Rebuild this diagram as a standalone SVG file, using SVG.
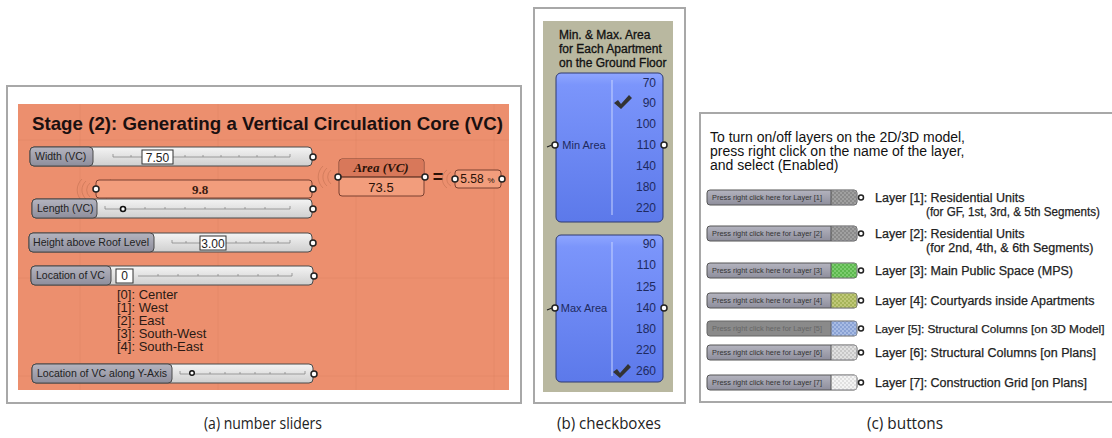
<svg xmlns="http://www.w3.org/2000/svg" width="1112" height="438" viewBox="0 0 1112 438">
<defs>
<linearGradient id="sl" x1="0" y1="0" x2="0" y2="1"><stop offset="0" stop-color="#f4f4f4"/><stop offset="1" stop-color="#cfcfcf"/></linearGradient>
<linearGradient id="lb" x1="0" y1="0" x2="0" y2="1"><stop offset="0" stop-color="#b4b4bf"/><stop offset="1" stop-color="#8e8e9c"/></linearGradient>
<linearGradient id="bl" x1="0" y1="0" x2="0" y2="1"><stop offset="0" stop-color="#8fa6ff"/><stop offset="0.08" stop-color="#7b95fb"/><stop offset="1" stop-color="#5c79ea"/></linearGradient>
<pattern id="pg" width="4" height="4" patternUnits="userSpaceOnUse"><rect width="4" height="4" fill="#8a8a8a"/><rect width="2" height="2" fill="#a0a0a0"/><rect x="2" y="2" width="2" height="2" fill="#a0a0a0"/></pattern>
<pattern id="pgr" width="4" height="4" patternUnits="userSpaceOnUse"><rect width="4" height="4" fill="#5cb84e"/><rect width="2" height="2" fill="#7ccc6e"/><rect x="2" y="2" width="2" height="2" fill="#7ccc6e"/></pattern>
<pattern id="pol" width="4" height="4" patternUnits="userSpaceOnUse"><rect width="4" height="4" fill="#a6b45a"/><rect width="2" height="2" fill="#c0c878"/><rect x="2" y="2" width="2" height="2" fill="#c0c878"/></pattern>
<pattern id="pbl" width="4" height="4" patternUnits="userSpaceOnUse"><rect width="4" height="4" fill="#8aa2d4"/><rect width="2" height="2" fill="#a8bce4"/><rect x="2" y="2" width="2" height="2" fill="#a8bce4"/></pattern>
<pattern id="plg" width="4" height="4" patternUnits="userSpaceOnUse"><rect width="4" height="4" fill="#c8c8c8"/><rect width="2" height="2" fill="#e0e0e0"/><rect x="2" y="2" width="2" height="2" fill="#e0e0e0"/></pattern>
<pattern id="pwh" width="4" height="4" patternUnits="userSpaceOnUse"><rect width="4" height="4" fill="#e0e0e0"/><rect width="2" height="2" fill="#f4f4f4"/><rect x="2" y="2" width="2" height="2" fill="#f4f4f4"/></pattern>
<path id="chk" d="M0,4 L4,1 L7,5 L15,-4 L18,-1 L7,10 Z"/>
</defs>
<style>
.frame{fill:#fff;stroke:#a8a8a8;stroke-width:2}
.body{fill:url(#sl);stroke:#4a4a4a;stroke-width:1}
.lab{fill:url(#lb);stroke:#4a4a4a;stroke-width:1}
.lt{font-family:"Liberation Sans",Arial,sans-serif;font-size:10.5px;fill:#222}
.tick{stroke:#888;stroke-width:0.8;fill:none}
.vbox{fill:#fff;stroke:#333;stroke-width:1}
.vt{font-family:"Liberation Sans",Arial,sans-serif;font-size:12px;fill:#222;text-anchor:middle}
.knob{fill:#fff;stroke:#222;stroke-width:1.5}
.arc{fill:none;stroke:#c07050;stroke-width:0.8;opacity:0.7}
.pnl{fill:#f29d7c;stroke:#7a4030;stroke-width:1}
.list{font-family:"Liberation Sans",Arial,sans-serif;font-size:13px;fill:#2a1a14}
.cbt{font-family:"Liberation Sans",Arial,sans-serif;font-size:11px;fill:#1e2a60}
.cbn{font-family:"Liberation Sans",Arial,sans-serif;font-size:12px;fill:#1e2a60;text-anchor:end}
.blue{fill:url(#bl);stroke:#2e3a70;stroke-width:1}
.btn{fill:url(#lb);stroke:#555;stroke-width:1}
.bt{font-family:"Liberation Sans",Arial,sans-serif;font-size:6.5px;fill:#333}
.layer{font-family:"Liberation Sans",Arial,sans-serif;font-size:12.5px;fill:#222;stroke:#222;stroke-width:0.25}
.cap{font-family:"Open Sans","Liberation Sans",sans-serif;font-size:16px;fill:#222;text-anchor:middle}
.grid{stroke:#d67a5a;stroke-width:0.8;opacity:0.3}
.ttl{font-family:"Liberation Sans",Arial,sans-serif;font-size:12px;fill:#111;stroke:#111;stroke-width:0.3}
</style>
<rect width="1112" height="438" fill="#fff"/>

<!-- Panel (a) -->
<g id="panel-a">
<rect class="frame" x="7" y="86" width="514" height="317"/>
<rect x="18" y="104" width="491" height="286" fill="#ec8f6e"/>
<line class="grid" x1="80" y1="104" x2="80" y2="390"/>
<line class="grid" x1="218" y1="104" x2="218" y2="390"/>
<line class="grid" x1="356" y1="104" x2="356" y2="390"/>
<line class="grid" x1="494" y1="104" x2="494" y2="390"/>
<line class="grid" x1="18" y1="140" x2="509" y2="140"/>
<line class="grid" x1="18" y1="278" x2="509" y2="278"/>
<line class="grid" x1="18" y1="376" x2="509" y2="376"/>
<text x="32" y="130" font-family="'Liberation Sans',Arial,sans-serif" font-size="19" font-weight="bold" fill="#1a1010" textLength="471" lengthAdjust="spacingAndGlyphs">Stage (2): Generating a Vertical Circulation Core (VC)</text>
</g>

<g id="slider-width">
<rect class="body" x="30" y="147" width="282" height="19" rx="4"/>
<rect class="lab" x="30" y="147" width="63" height="19" rx="4"/>
<text class="lt" x="35" y="160">Width (VC)</text>
<path class="tick" d="M113,157 H290 M113,154 V157 M131,155 V157 M149,155 V157 M185,155 V157 M203,155 V157 M221,155 V157 M239,155 V157 M257,155 V157 M275,155 V157 M290,154 V157"/>
<rect class="vbox" x="142" y="150" width="31" height="14"/>
<text class="vt" x="157.5" y="161.5">7.50</text>
<circle class="knob" cx="313" cy="157" r="3"/>
</g>

<g id="panel-length">
<path class="arc" d="M90,183 a9,9 0 0 0 0,14 M86,181 a12,12 0 0 0 0,18 M82,179 a15,15 0 0 0 0,22 M102,183 a9,9 0 0 1 0,14 M106,181 a12,12 0 0 1 0,18 M110,179 a15,15 0 0 1 0,22"/>
<rect class="pnl" x="96" y="180" width="216" height="18" rx="3"/>
<text x="200" y="194" font-family="'Liberation Serif','Times New Roman',serif" font-size="13" font-weight="bold" fill="#3a1a10" text-anchor="middle">9.8</text>
<circle class="knob" cx="96" cy="189" r="3"/>
<circle class="knob" cx="313" cy="189" r="3"/>
</g>

<g id="slider-length">
<rect class="body" x="32" y="199" width="280" height="19" rx="4"/>
<rect class="lab" x="32" y="199" width="65" height="19" rx="4"/>
<text class="lt" x="37" y="212">Length (VC)</text>
<path class="tick" d="M105,209 H290 M105,206 V209 M145,207 V209 M165,207 V209 M185,207 V209 M205,207 V209 M225,207 V209 M245,207 V209 M265,207 V209 M290,206 V209"/>
<circle cx="123" cy="209" r="2.5" fill="#fff" stroke="#111" stroke-width="1.6"/>
<circle class="knob" cx="313" cy="209" r="3"/>
</g>

<g id="slider-height">
<rect class="body" x="29" y="233" width="283" height="19" rx="4"/>
<rect class="lab" x="29" y="233" width="125" height="19" rx="4"/>
<text class="lt" x="33" y="246" textLength="116" lengthAdjust="spacingAndGlyphs">Height above Roof Level</text>
<path class="tick" d="M172,243 H290 M172,240 V243 M186,241 V243 M236,241 V243 M250,241 V243 M264,241 V243 M278,241 V243 M290,240 V243"/>
<rect class="vbox" x="200" y="236" width="26" height="14"/>
<text class="vt" x="213" y="247.5">3.00</text>
<circle class="knob" cx="313" cy="243" r="3"/>
</g>

<g id="slider-location">
<rect class="body" x="31" y="266" width="282" height="19" rx="4"/>
<rect class="lab" x="31" y="266" width="80" height="19" rx="4"/>
<text class="lt" x="36" y="279">Location of VC</text>
<path class="tick" d="M138,276 H292 M158,274 V276 M178,274 V276 M198,274 V276 M218,274 V276 M238,274 V276 M258,274 V276 M278,274 V276 M292,273 V276"/>
<rect class="vbox" x="116" y="269" width="17" height="14"/>
<text class="vt" x="124.5" y="280" font-size="11">0</text>
<circle class="knob" cx="314" cy="276" r="3"/>
</g>

<g id="location-list">
<text class="list" x="117" y="299">[0]: Center</text>
<text class="list" x="117" y="312">[1]: West</text>
<text class="list" x="117" y="325">[2]: East</text>
<text class="list" x="117" y="338">[3]: South-West</text>
<text class="list" x="117" y="351">[4]: South-East</text>
</g>

<g id="slider-yaxis">
<rect class="body" x="32" y="364" width="281" height="19" rx="4"/>
<rect class="lab" x="32" y="364" width="140" height="19" rx="4"/>
<text class="lt" x="37" y="377" textLength="130" lengthAdjust="spacingAndGlyphs">Location of VC along Y-Axis</text>
<path class="tick" d="M180,374 H305 M180,371 V374 M210,372 V374 M225,372 V374 M240,372 V374 M255,372 V374 M270,372 V374 M285,372 V374 M305,371 V374"/>
<circle cx="192" cy="373" r="2.3" fill="#fff" stroke="#111" stroke-width="1.4"/>
<circle class="knob" cx="314" cy="374" r="3"/>
</g>

<g id="panel-area">
<path class="arc" d="M331,170 a9,9 0 0 0 0,14 M327,168 a12,12 0 0 0 0,18 M323,166 a15,15 0 0 0 0,22"/>
<rect class="pnl" x="339" y="159" width="85" height="37" rx="3"/>
<path d="M339.5,177 V162 a3,3 0 0 1 3,-3 H420.5 a3,3 0 0 1 3,3 V177 Z" fill="#d8785a"/>
<line x1="339" y1="177" x2="424" y2="177" stroke="#3a1a10" stroke-width="1.2"/>
<text x="381" y="172" font-family="'Liberation Serif','Times New Roman',serif" font-size="13" font-style="italic" font-weight="bold" fill="#2a1208" text-anchor="middle">Area (VC)</text>
<text x="381" y="192" font-family="'Liberation Sans',Arial,sans-serif" font-size="13" fill="#2a1208" text-anchor="middle">73.5</text>
<circle class="knob" cx="338" cy="177" r="3"/>
<circle class="knob" cx="425" cy="177" r="3"/>
<text x="438" y="183" font-family="'Liberation Sans',Arial,sans-serif" font-size="18" font-weight="bold" fill="#2a1208" text-anchor="middle">=</text>
</g>

<g id="panel-percent">
<path class="arc" d="M451,172 a8,8 0 0 0 0,14 M447,170 a11,11 0 0 0 0,18"/>
<rect class="pnl" x="455" y="170" width="46" height="18" rx="3"/>
<text x="472" y="183" font-family="'Liberation Sans',Arial,sans-serif" font-size="12" fill="#2a1208" text-anchor="middle">5.58</text>
<text x="491" y="183" font-family="'Liberation Sans',Arial,sans-serif" font-size="8" fill="#2a1208" text-anchor="middle">%</text>
<circle class="knob" cx="455" cy="179" r="3"/>
<circle class="knob" cx="502" cy="179" r="3"/>
</g>

<!-- Panel (b) -->
<g id="panel-b">
<rect class="frame" x="534" y="8" width="151" height="395"/>
<rect x="543" y="21" width="130" height="371" fill="#b9b8a0"/>
<text class="ttl" x="559" y="39">Min. &amp; Max. Area</text>
<text class="ttl" x="559" y="53">for Each Apartment</text>
<text class="ttl" x="559" y="67">on the Ground Floor</text>
</g>

<g id="checkbox-min">
<rect class="blue" x="556" y="73" width="107" height="149" rx="5"/>
<line x1="612" y1="80" x2="612" y2="215" stroke="#c8d4ff" stroke-width="1"/>
<text class="cbt" x="584" y="149" text-anchor="middle">Min Area</text>
<text class="cbn" x="656" y="87">70</text>
<text class="cbn" x="656" y="107">90</text>
<text class="cbn" x="656" y="128">100</text>
<text class="cbn" x="656" y="149">110</text>
<text class="cbn" x="656" y="170">140</text>
<text class="cbn" x="656" y="191">180</text>
<text class="cbn" x="656" y="212">220</text>
<use href="#chk" x="614" y="99" fill="#333"/>
<line x1="547" y1="147" x2="552" y2="145" stroke="#222" stroke-width="1.2"/>
<circle class="knob" cx="555" cy="145" r="3"/>
<circle class="knob" cx="664" cy="145" r="3"/>
</g>

<g id="checkbox-max">
<rect class="blue" x="556" y="235" width="107" height="147" rx="5"/>
<line x1="612" y1="242" x2="612" y2="376" stroke="#c8d4ff" stroke-width="1"/>
<text class="cbt" x="584" y="312" text-anchor="middle">Max Area</text>
<text class="cbn" x="656" y="248">90</text>
<text class="cbn" x="656" y="269">110</text>
<text class="cbn" x="656" y="291">125</text>
<text class="cbn" x="656" y="312">140</text>
<text class="cbn" x="656" y="333">180</text>
<text class="cbn" x="656" y="354">220</text>
<text class="cbn" x="656" y="375">260</text>
<use href="#chk" x="613" y="368" fill="#333"/>
<line x1="547" y1="310" x2="552" y2="308" stroke="#222" stroke-width="1.2"/>
<circle class="knob" cx="555" cy="308" r="3"/>
<circle class="knob" cx="664" cy="308" r="3"/>
</g>

<!-- Panel (c) -->
<g id="panel-c">
<rect class="frame" x="700" y="113" width="430" height="289"/>
<text x="710" y="142" font-family="'Liberation Sans',Arial,sans-serif" font-size="14" fill="#111">To turn on/off layers on the 2D/3D model,</text>
<text x="710" y="156" font-family="'Liberation Sans',Arial,sans-serif" font-size="14" fill="#111">press right click on the name of the layer,</text>
<text x="710" y="170" font-family="'Liberation Sans',Arial,sans-serif" font-size="14" fill="#111">and select (Enabled)</text>
</g>

<g id="button-1">
<rect class="btn" x="707" y="190" width="150" height="15" rx="3"/>
<rect x="831" y="190.5" width="25.5" height="14" fill="url(#pg)"/>
<line x1="831" y1="190" x2="831" y2="205" stroke="#555"/>
<text class="bt" x="712" y="200" textLength="110" lengthAdjust="spacingAndGlyphs">Press right click here for Layer [1]</text>
<circle class="knob" cx="861" cy="197.5" r="2.5"/>
<text class="layer" x="875" y="202">Layer [1]: Residential Units</text>
<text class="layer" x="926" y="216" textLength="174" lengthAdjust="spacingAndGlyphs">(for GF, 1st, 3rd, &amp; 5th Segments)</text>
</g>

<g id="button-2">
<rect class="btn" x="707" y="226" width="150" height="15" rx="3"/>
<rect x="831" y="226.5" width="25.5" height="14" fill="url(#pg)"/>
<line x1="831" y1="226" x2="831" y2="241" stroke="#555"/>
<text class="bt" x="712" y="236" textLength="110" lengthAdjust="spacingAndGlyphs">Press right click here for Layer [2]</text>
<circle class="knob" cx="861" cy="233.5" r="2.5"/>
<text class="layer" x="875" y="238">Layer [2]: Residential Units</text>
<text class="layer" x="926" y="252">(for 2nd, 4th, &amp; 6th Segments)</text>
</g>

<g id="button-3">
<rect class="btn" x="707" y="263" width="150" height="15" rx="3"/>
<rect x="831" y="263.5" width="25.5" height="14" fill="url(#pgr)"/>
<line x1="831" y1="263" x2="831" y2="278" stroke="#555"/>
<text class="bt" x="712" y="273" textLength="110" lengthAdjust="spacingAndGlyphs">Press right click here for Layer [3]</text>
<circle class="knob" cx="861" cy="270.5" r="2.5"/>
<text class="layer" x="875" y="275">Layer [3]: Main Public Space (MPS)</text>
</g>

<g id="button-4">
<rect class="btn" x="707" y="293" width="150" height="15" rx="3"/>
<rect x="831" y="293.5" width="25.5" height="14" fill="url(#pol)"/>
<line x1="831" y1="293" x2="831" y2="308" stroke="#555"/>
<text class="bt" x="712" y="303" textLength="110" lengthAdjust="spacingAndGlyphs">Press right click here for Layer [4]</text>
<circle class="knob" cx="861" cy="300.5" r="2.5"/>
<text class="layer" x="875" y="305">Layer [4]: Courtyards inside Apartments</text>
</g>

<g id="button-5">
<rect x="707" y="321" width="150" height="15" rx="3" fill="#8a8a8a" stroke="#666"/>
<rect x="831" y="321.5" width="25.5" height="14" fill="url(#pbl)"/>
<line x1="831" y1="321" x2="831" y2="336" stroke="#666"/>
<text class="bt" x="712" y="331" textLength="110" lengthAdjust="spacingAndGlyphs" style="fill:#666">Press right click here for Layer [5]</text>
<circle class="knob" cx="861" cy="328.5" r="2.5"/>
<text class="layer" x="875" y="333" style="font-size:11.8px">Layer [5]: Structural Columns [on 3D Model]</text>
</g>

<g id="button-6">
<rect class="btn" x="707" y="345" width="150" height="15" rx="3"/>
<rect x="831" y="345.5" width="25.5" height="14" fill="url(#plg)"/>
<line x1="831" y1="345" x2="831" y2="360" stroke="#555"/>
<text class="bt" x="712" y="355" textLength="110" lengthAdjust="spacingAndGlyphs">Press right click here for Layer [6]</text>
<circle class="knob" cx="861" cy="352.5" r="2.5"/>
<text class="layer" x="875" y="357">Layer [6]: Structural Columns [on Plans]</text>
</g>

<g id="button-7">
<rect class="btn" x="707" y="375" width="150" height="15" rx="3"/>
<rect x="831" y="375.5" width="25.5" height="14" fill="url(#pwh)"/>
<line x1="831" y1="375" x2="831" y2="390" stroke="#555"/>
<text class="bt" x="712" y="385" textLength="110" lengthAdjust="spacingAndGlyphs">Press right click here for Layer [7]</text>
<circle class="knob" cx="861" cy="382.5" r="2.5"/>
<text class="layer" x="875" y="387">Layer [7]: Construction Grid [on Plans]</text>
</g>

<g id="captions">
<text class="cap" x="263" y="429" textLength="118" lengthAdjust="spacingAndGlyphs">(a) number sliders</text>
<text class="cap" x="609" y="429" textLength="104" lengthAdjust="spacingAndGlyphs">(b) checkboxes</text>
<text class="cap" x="905" y="429" textLength="76" lengthAdjust="spacingAndGlyphs">(c) buttons</text>
</g>
<g id="connectors"/>
</svg>
